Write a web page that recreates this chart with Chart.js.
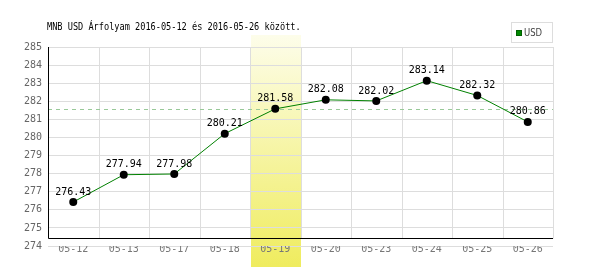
<!DOCTYPE html>
<html><head><meta charset="utf-8">
<script src="https://cdn.jsdelivr.net/npm/chart.js@4/dist/chart.umd.min.js"></script>
<style>html,body{margin:0;padding:0;background:#fff}#w{width:600px;height:270px}</style>
</head><body><div id="w"><canvas id="c"></canvas></div>
<script>
const titleText = "MNB USD Árfolyam 2016-05-12 és 2016-05-26 között.";
const seriesName = "USD";
const categories = ["05-12","05-13","05-17","05-18","05-19","05-20","05-23","05-24","05-25","05-26"];
const usdValues = [276.43, 277.94, 277.98, 280.21, 281.58, 282.08, 282.02, 283.14, 282.32, 280.86];
const yTicks = [274,275,276,277,278,279,280,281,282,283,284,285];
const refLineValue = 281.58;
const highlightIndex = 4;

const MONO = "'DejaVu Sans Mono', monospace";

const custom = {
  id: 'custom',
  beforeDraw(chart) {
    const {ctx, chartArea: a, scales: {x}} = chart;
    const half = (x.getPixelForValue(1) - x.getPixelForValue(0)) / 2;
    const cx = x.getPixelForValue(highlightIndex);
    const g = ctx.createLinearGradient(0, 35, 0, 267);
    g.addColorStop(0, '#fdfdea');
    g.addColorStop(1, '#efec5e');
    ctx.save();
    ctx.fillStyle = g;
    ctx.fillRect(Math.round(cx - half) + 1, 35, Math.round(2 * half) - 1, 232);
    ctx.restore();
  },
  beforeDatasetsDraw(chart) {
    const {ctx, chartArea: a, scales: {x, y}} = chart;
    const axisY = Math.round(y.getPixelForValue(274.45)) + 0.5;
    const half = (x.getPixelForValue(1) - x.getPixelForValue(0)) / 2;
    ctx.save();
    ctx.strokeStyle = '#dddddd';
    ctx.lineWidth = 1;
    for (let i = 0; i < categories.length; i++) {
      const px = Math.round(x.getPixelForValue(i) + half) + 0.5;
      ctx.beginPath(); ctx.moveTo(px, a.top); ctx.lineTo(px, axisY); ctx.stroke();
    }
    const ry = Math.round(y.getPixelForValue(refLineValue)) + 0.5;
    ctx.strokeStyle = '#99c999';
    ctx.setLineDash([4, 4]);
    ctx.beginPath(); ctx.moveTo(a.left, ry); ctx.lineTo(a.right, ry); ctx.stroke();
    ctx.setLineDash([]);
    ctx.strokeStyle = '#000';
    ctx.beginPath(); ctx.moveTo(a.left + 0.5, a.top); ctx.lineTo(a.left + 0.5, axisY); ctx.lineTo(a.right, axisY); ctx.stroke();
    ctx.restore();
  },
  afterDatasetsDraw(chart) {
    const {ctx} = chart;
    const meta = chart.getDatasetMeta(0);
    ctx.save();
    ctx.font = "10px " + MONO;
    ctx.fillStyle = '#000';
    ctx.textAlign = 'center';
    ctx.textBaseline = 'middle';
    meta.data.forEach((p, i) => {
      ctx.fillText(usdValues[i].toFixed(2), p.x, p.y - 10);
    });
    // title (narrow monospace look)
    ctx.save();
    ctx.translate(47, 27);
    ctx.scale(0.86, 1);
    ctx.font = "10px " + MONO;
    ctx.textAlign = 'left';
    ctx.fillStyle = '#000';
    ctx.fillText(titleText, 0, 0);
    ctx.restore();
    // legend
    ctx.strokeStyle = '#dddddd';
    ctx.lineWidth = 1;
    ctx.strokeRect(511.5, 22.5, 41, 20);
    ctx.fillStyle = '#006000';
    ctx.fillRect(516, 30, 6, 6);
    ctx.fillStyle = '#008800';
    ctx.fillRect(517, 31, 4, 4);
    ctx.save();
    ctx.translate(524, 33);
    ctx.scale(0.85, 1);
    ctx.fillStyle = '#444';
    ctx.textAlign = 'left';
    ctx.font = "10px 'DejaVu Sans', sans-serif";
    ctx.fillText(seriesName, 0, 0);
    ctx.restore();
    ctx.restore();
  }
};

new Chart(document.getElementById('c'), {
  type: 'line',
  data: {
    labels: categories,
    datasets: [{
      label: seriesName,
      data: usdValues,
      borderColor: '#008000',
      borderWidth: 1,
      pointBackgroundColor: '#000',
      pointBorderColor: '#000',
      pointRadius: 4,
      pointBorderWidth: 0,
      tension: 0,
      fill: false
    }]
  },
  options: {
    responsive: true,
    maintainAspectRatio: false,
    animation: false,
    events: [],
    layout: {padding: {top: 47, right: 47, left: 0, bottom: 0}},
    plugins: {legend: {display: false}, title: {display: false}, tooltip: {enabled: false}},
    scales: {
      x: {
        offset: true,
        grid: {display: false, drawTicks: false},
        border: {display: false},
        ticks: {color: '#777', font: {family: MONO, size: 10}, padding: -3, maxRotation: 0, autoSkip: false},
        afterFit(s) { s.height = 24; }
      },
      y: {
        min: 274, max: 285,
        afterBuildTicks(s) { s.ticks = yTicks.map(v => ({value: v})); },
        grid: {color: '#dddddd', drawTicks: false},
        border: {display: false},
        ticks: {color: '#666', font: {family: MONO, size: 10}, padding: 6},
        afterFit(s) { s.width = 48; }
      }
    }
  },
  plugins: [custom]
});
</script>
</body></html>
